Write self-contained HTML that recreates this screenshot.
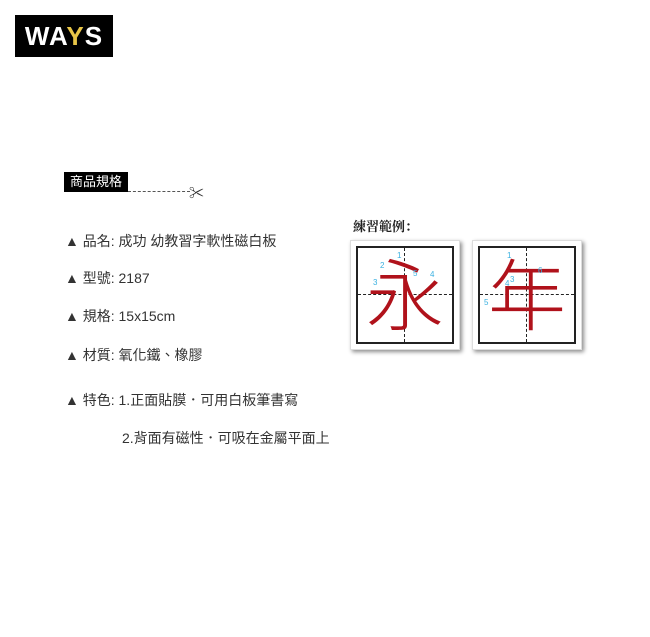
<!DOCTYPE html>
<html><head><meta charset="utf-8"><style>
body{margin:0;width:650px;height:637px;background:#fff;position:relative;overflow:hidden;font-family:"Liberation Sans","Noto Sans CJK TC",sans-serif;color:#333}
.a{position:absolute}
.line{position:absolute;left:65px;font-size:14px;white-space:nowrap;line-height:18px}
.card{position:absolute;width:108px;height:108px;background:#fff;box-shadow:2px 2px 4px rgba(0,0,0,.45);border:1px solid #ddd}
.inner{position:absolute;left:5px;top:5px;width:94px;height:94px;border:2px solid #222}
.hd{position:absolute;left:0;top:46px;width:94px;border-top:1.5px dashed #222}
.vd{position:absolute;top:0;left:46px;height:94px;border-left:1.5px dashed #222}
.ch{position:absolute;left:0;top:-4px;width:94px;text-align:center;font-size:78px;line-height:94px;color:#b0121b;font-family:"Noto Sans CJK TC",sans-serif;font-weight:300}
.n{position:absolute;font-size:8px;color:#3ab0e0}
</style></head><body>
<div class="a" style="left:15px;top:15px;width:98px;height:42px;background:#000;color:#fff;font:bold 26px 'Liberation Sans',sans-serif;line-height:42px;text-align:center;letter-spacing:1px">WA<span style="color:#e8c547">Y</span>S</div>
<div class="a" style="left:64px;top:172px;width:64px;height:20px;background:#000;color:#fff;font-size:13px;line-height:20px;text-align:center">商品規格</div>
<div class="a" style="left:128px;top:191px;width:62px;border-top:1.5px dashed #555"></div>
<div class="a" style="left:189px;top:182px;font-size:15px;color:#333">✂</div>
<div class="line" style="top:232px">▲ 品名: 成功 幼教習字軟性磁白板</div>
<div class="line" style="top:269px">▲ 型號: 2187</div>
<div class="line" style="top:307px">▲ 規格: 15x15cm</div>
<div class="line" style="top:346px">▲ 材質: 氧化鐵、橡膠</div>
<div class="line" style="top:391px">▲ 特色: 1.正面貼膜．可用白板筆書寫</div>
<div class="line" style="top:429px;left:122px">2.背面有磁性．可吸在金屬平面上</div>
<div class="a" style="left:353px;top:216px;font-size:13px;font-weight:bold;font-family:'Noto Serif CJK SC',serif;color:#222">練習範例：</div>
<div class="card" style="left:350px;top:240px"><div class="inner"><div class="hd"></div><div class="vd"></div><div class="ch">永</div><span class="n" style="left:39px;top:3px">1</span><span class="n" style="left:22px;top:13px">2</span><span class="n" style="left:15px;top:30px">3</span><span class="n" style="left:72px;top:22px">4</span><span class="n" style="left:55px;top:21px">5</span></div></div>
<div class="card" style="left:472px;top:240px"><div class="inner"><div class="hd"></div><div class="vd"></div><div class="ch">年</div><span class="n" style="left:27px;top:3px">1</span><span class="n" style="left:30px;top:27px">3</span><span class="n" style="left:25px;top:31px">4</span><span class="n" style="left:4px;top:50px">5</span><span class="n" style="left:58px;top:18px">6</span></div></div>
</body></html>
